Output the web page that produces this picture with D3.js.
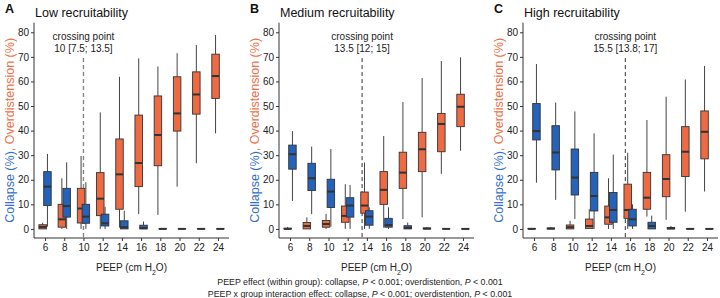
<!DOCTYPE html>
<html><head><meta charset="utf-8">
<script src="https://cdn.jsdelivr.net/npm/d3@7"></script>
<style>body{margin:0;background:#fff}svg{display:block;font-family:"Liberation Sans",Arial,sans-serif}</style>
</head><body><svg id="c" width="720" height="298"></svg>
<script>
// ---- data ----
const peep = [6, 8, 10, 12, 14, 16, 18, 20, 22, 24];
const yTicks = [0, 10, 20, 30, 40, 50, 60, 70, 80];
const panelLetters = ["A", "B", "C"];
const panelTitles = ["Low recruitability", "Medium recruitability", "High recruitability"];
const crossing = [10, 13.5, 15.5];
const crossingLabels = ["10 [7.5; 13.5]", "13.5 [12; 15]", "15.5 [13.8; 17]"];
// each entry: [min, q1, median, q3, max]
const lowOver = [[0,0,0.8,1.7,2.5],[0,0.7,3.9,10,20.6],[0,2.4,8.3,16.5,29.7],[0,5.4,12.3,22.9,47.4],[0.5,8,22.2,36.6,61.9],[6,17.2,26.8,46.3,69.4],[5.7,25.7,38.2,54.1,66.1],[17.2,39.8,47,61.9,71.5],[26.7,46.7,54.7,63.9,74.8],[38.9,53.1,62.2,71.1,78.9]];
const lowCol = [[0.9,9.5,17.2,23.3,30.5],[0,4.8,9.3,16.5,27.1],[0,2.3,5,10,19],[0,1.2,2.3,6,9],[0,0,0.7,3.3,7.4],[0,0,0.3,1.5,3],[0,0,0,0.2,0.3],[0,0,0,0.1,0.2],[0,0,0,0.1,0.2],[0,0,0,0.1,0.2]];
const medOver = [[0,0,0,0.3,0.8],[0,0,1.2,2.6,4.7],[0,0.7,2,3.4,6.1],[0,2.7,5.3,9.3,18.2],[0,6.4,9.5,15,27],[0.5,10,15.9,23.3,37.8],[4,16.5,22.9,31.2,51.6],[4.7,23.3,32.4,39.3,61.4],[22.4,31.4,42.7,47,68.3],[31.8,41.6,49.7,54.8,69.8]];
const medCol = [[11.4,24.3,30.4,34.1,39.8],[6,15.6,20.6,26.7,33.5],[0.9,8.7,15.2,20.2,32.5],[0,4.8,9.5,12.7,17.9],[0,1.5,5,7.4,8.8],[0,0.7,1.6,4.3,8.8],[0,0,0.4,1.3,2.6],[0,0,0.1,0.4,0.8],[0,0,0,0.1,0.2],[0,0,0,0.1,0.2]];
const highOver = [[0,0,0,0.2,0.4],[0,0,0.1,0.4,0.8],[0,0,0.7,1.6,3.3],[0,0.2,1.2,4,8],[0,1.9,4.7,9.3,20.6],[0,4.3,7.7,18.2,31],[5,8,12.7,23,44.3],[3.7,13.1,20.3,30.2,53.8],[7,21.3,31.4,41.6,60.8],[15.2,28.5,39.5,48,66.3]];
const highCol = [[18.8,36.2,39.8,51,67.1],[11.8,24,31.1,42,51.4],[4,13.8,20.9,32.5,47.8],[0,7.3,13.4,23,38.9],[0,2.7,7.7,14.8,30.2],[0,1.2,3.9,8,10],[0,0,1.2,2.7,5.4],[0,0,0.2,0.6,1.2],[0,0,0,0.1,0.2],[0,0,0,0.1,0.2]];
const overSeries = [lowOver, medOver, highOver];
const colSeries = [lowCol, medCol, highCol];

// ---- styles / layout ----
const ORANGE = "#EE6A43", BLUE = "#2562B9";
const ORANGE_T = "#F07048", BLUE_T = "#3471CC";
const INK = "#333";
const panelLeft = [34, 279, 523];
const panelW = 195, plotTop = 22.7, plotBottom = 238;
const svg = d3.select("#c");
const y = d3.scaleLinear().domain([-3.7, 83.9]).range([plotBottom, plotTop]);
const dodge = 0.25, boxW = 0.78;

panelLeft.forEach((L, i) => {
  const x = d3.scaleLinear().domain([4.85, 25.15]).range([L, L + panelW]);
  const g = svg.append("g");

  const ya = g.append("g").attr("transform", `translate(${L},0)`)
    .call(d3.axisLeft(y).tickValues(yTicks).tickSize(3).tickPadding(2));
  ya.select(".domain").attr("d", `M0,${plotTop}V${plotBottom}`).attr("stroke", INK).attr("stroke-width", 1);
  ya.selectAll(".tick line").attr("stroke", INK);
  ya.selectAll(".tick text").attr("fill", "#222").style("font-size", "10px").style("font-family", "Liberation Sans, Arial, sans-serif");

  const xa = g.append("g").attr("transform", `translate(0,${plotBottom})`)
    .call(d3.axisBottom(x).tickValues(peep).tickSize(3).tickPadding(3));
  xa.select(".domain").attr("d", `M${L},0H${L + panelW}`).attr("stroke", INK).attr("stroke-width", 1);
  xa.selectAll(".tick line").attr("stroke", INK);
  xa.selectAll(".tick text").attr("fill", "#222").style("font-size", "10px").style("font-family", "Liberation Sans, Arial, sans-serif");

  const cx = x(crossing[i]);
  g.append("line").attr("x1", cx).attr("x2", cx).attr("y1", y(69.5)).attr("y2", plotBottom)
    .attr("stroke", i === 0 ? "#888" : "#333").attr("stroke-width", i === 0 ? 1.4 : 1)
    .attr("stroke-dasharray", "4,3");
  g.append("text").attr("x", cx).attr("y", 40).attr("text-anchor", "middle")
    .style("font-size", "10px").attr("fill", "#222").text("crossing point");
  g.append("text").attr("x", cx).attr("y", 52).attr("text-anchor", "middle")
    .style("font-size", "10px").attr("fill", "#222").text(crossingLabels[i]);

  const drawSeries = (data, off, fill) => {
    data.forEach((d, j) => {
      const xc = x(peep[j] + off);
      const hw = (x(boxW) - x(0)) / 2;
      const bg = g.append("g");
      bg.append("line").attr("x1", xc).attr("x2", xc).attr("y1", y(d[4])).attr("y2", y(d[3]))
        .attr("stroke", "#444").attr("stroke-width", 1);
      bg.append("line").attr("x1", xc).attr("x2", xc).attr("y1", y(d[1])).attr("y2", y(d[0]))
        .attr("stroke", "#444").attr("stroke-width", 1);
      bg.append("rect").attr("x", xc - hw).attr("width", 2 * hw)
        .attr("y", y(d[3])).attr("height", Math.max(0, y(d[1]) - y(d[3])))
        .attr("fill", fill).attr("stroke", INK).attr("stroke-width", 0.9);
      bg.append("line").attr("x1", xc - hw).attr("x2", xc + hw).attr("y1", y(d[2])).attr("y2", y(d[2]))
        .attr("stroke", INK).attr("stroke-width", 2);
    });
  };
  drawSeries(overSeries[i], -dodge, ORANGE);
  drawSeries(colSeries[i], dodge, BLUE);

  g.append("text").attr("x", L - 29).attr("y", 13).style("font-size", "12.5px").style("font-weight", "bold")
    .attr("fill", "#111").text(panelLetters[i]);
  g.append("text").attr("x", L + 1).attr("y", 16.5).style("font-size", "12.5px").attr("fill", "#111").text(panelTitles[i]);

  const yt = g.append("text").attr("transform", `translate(${L - 20},${(plotTop + plotBottom) / 2}) rotate(-90)`)
    .attr("text-anchor", "middle").style("font-size", "12.5px");
  yt.append("tspan").attr("fill", BLUE_T).text("Collapse (%)");
  yt.append("tspan").attr("fill", ORANGE_T).text(", Overdistension (%)");

  const xt = g.append("text").attr("x", L + panelW / 2).attr("y", 271).attr("text-anchor", "middle")
    .style("font-size", "10px").attr("fill", "#222");
  xt.append("tspan").text("PEEP (cm H");
  xt.append("tspan").attr("baseline-shift", "sub").style("font-size", "7px").text("2");
  xt.append("tspan").text("O)");
});

const notes = [
  ["PEEP effect (within group): collapse, ", "P", " < 0.001; overdistention, ", "P", " < 0.001"],
  ["PEEP x group interaction effect: collapse, ", "P", " < 0.001; overdistention, ", "P", " < 0.001"]
];
notes.forEach((parts, k) => {
  const t = svg.append("text").attr("x", 360).attr("y", 284.5 + k * 12).attr("text-anchor", "middle")
    .style("font-size", "8.8px").attr("fill", "#222");
  parts.forEach((p) => t.append("tspan").style("font-style", p === "P" ? "italic" : "normal").text(p));
});
</script></body></html>
